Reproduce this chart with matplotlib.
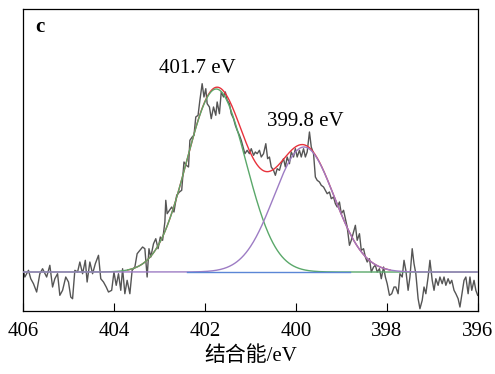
import matplotlib
matplotlib.use('Agg')
import matplotlib.pyplot as plt
import numpy as np

# 实测谱 (binding energy / eV, intensity a.u., baseline = 0)
energy = [406.00, 405.96, 405.88, 405.83, 405.77, 405.70, 405.63, 405.57, 405.48, 405.41,
          405.35, 405.30, 405.24, 405.19, 405.13, 405.06, 405.00, 404.95, 404.91, 404.86,
          404.80, 404.75, 404.69, 404.63, 404.59, 404.53, 404.47, 404.41, 404.34, 404.29,
          404.23, 404.17, 404.12, 404.05, 404.00, 403.95, 403.90, 403.85, 403.81, 403.76,
          403.71, 403.65, 403.60, 403.54, 403.49, 403.43, 403.37, 403.32, 403.27, 403.23,
          403.19, 403.13, 403.08, 403.03, 402.98, 402.93, 402.88, 402.86, 402.83, 402.78,
          402.73, 402.68, 402.62, 402.56, 402.51, 402.46, 402.41, 402.36, 402.33, 402.28,
          402.24, 402.20, 402.15, 402.11, 402.06, 402.02, 401.98, 401.95, 401.90, 401.86,
          401.81, 401.76, 401.73, 401.68, 401.64, 401.59, 401.55, 401.51, 401.46, 401.42,
          401.37, 401.33, 401.29, 401.24, 401.20, 401.15, 401.12, 401.07, 401.02, 400.98,
          400.93, 400.89, 400.85, 400.80, 400.76, 400.71, 400.66, 400.62, 400.58, 400.54,
          400.49, 400.45, 400.41, 400.36, 400.32, 400.27, 400.23, 400.19, 400.14, 400.10,
          400.05, 400.01, 399.97, 399.92, 399.88, 399.83, 399.79, 399.75, 399.70, 399.66,
          399.61, 399.57, 399.53, 399.48, 399.44, 399.39, 399.35, 399.31, 399.26, 399.22,
          399.17, 399.13, 399.09, 399.04, 399.00, 398.95, 398.91, 398.87, 398.82, 398.78,
          398.73, 398.69, 398.65, 398.60, 398.56, 398.51, 398.47, 398.43, 398.38, 398.34,
          398.29, 398.25, 398.21, 398.16, 398.12, 398.07, 398.03, 397.99, 397.94, 397.89,
          397.84, 397.80, 397.75, 397.71, 397.66, 397.62, 397.58, 397.53, 397.49, 397.44,
          397.40, 397.36, 397.31, 397.27, 397.22, 397.18, 397.14, 397.09, 397.05, 397.00,
          396.96, 396.92, 396.87, 396.83, 396.78, 396.74, 396.70, 396.65, 396.61, 396.57,
          396.52, 396.48, 396.43, 396.39, 396.35, 396.30, 396.26, 396.21, 396.17, 396.13,
          396.08, 396.04, 396.00]
intensity = [3.3, -5, 1.7, -6.7, -11.7, -20, -1.7, 3.3, -5, 6.7,
             -15, -6.7, -1.7, -23.3, -18.3, -5, -10, -25, -26.7, 1.7,
             0, 10, -1.7, 11.7, -10, 10, -1.7, 8.3, 16.7, -6.7,
             -10, -15, -20, -18.3, 0, -13.3, -1.7, -18.3, 3.3, -21.7,
             -8.3, -21.7, 1.7, 5, 18.3, 21.7, 25, 23.3, -5, 23.3,
             15, 28.3, 33.3, 23.3, 35, 31.7, 50, 71.7, 58.3, 61.7,
             65, 60, 76.7, 80, 81.7, 110, 106.7, 105, 131.7, 135,
             136.7, 155, 156.7, 171.7, 188.3, 175, 183.3, 168.3, 165, 153.3,
             165, 156.7, 170, 158.3, 180, 175, 180, 171.7, 168.3, 158.3,
             153.3, 146.7, 141.7, 136.7, 131.7, 123.3, 118.3, 121.7, 118.3, 123.3,
             116.7, 120, 118.3, 121.7, 115, 118.3, 128.3, 113.3, 115, 105,
             101.7, 96.7, 103.3, 101.7, 108.3, 113.3, 105, 115, 108.3, 120,
             115, 123.3, 115, 121.7, 115, 123.3, 115, 120, 140, 125,
             118.3, 95, 91.7, 90, 86.7, 85, 81.7, 78.3, 80, 73.3,
             75, 68.3, 65, 70, 58.3, 61.7, 53.3, 45, 26.7, 31.7,
             40, 46.7, 31.7, 38.3, 21.7, 23.3, 15, 10, 13.3, 0,
             5, 6.7, 0, 3.3, -6.7, 5, -5, -11.7, -23.3, -21.7,
             -15, -15, -21.7, -1.7, -5, 11.7, 1.7, -18.3, -5, 23.3,
             8.3, -1.7, -26.7, -36.7, -28.3, -15, -21.7, -5, 11.7, -8.3,
             -18.3, -6.7, -13.3, -5, -11.7, -5, -13.3, -6.7, -11.7, -8.3,
             -18.3, -21.7, -26.7, -35, -23.3, -8.3, -5, -21.7, -5, -18.3,
             -8.3, -18.3, -23.3]

# 拟合峰参数
peak_labels = ['401.7 eV', '399.8 eV']
peak_centers = [401.75, 399.82]
peak_heights = [183, 125]
peak_sigmas = [0.65, 0.66]
peak_colors = ['#5aa86a', '#9d7cc4']
label_pos = [(402.17, 203), (399.8, 150)]
bg_range = [402.4, 398.8]

plt.rcParams['font.family'] = ['Liberation Serif', 'Noto Sans CJK SC']

fig = plt.figure(figsize=(4.95, 3.74), dpi=100)
ax = fig.add_axes([0.0465, 0.1684, 0.9185, 0.8076])

# 原始数据
ax.plot(energy, intensity, color='#555555', linewidth=1.0, zorder=2)

# 分峰曲线
x_fit = np.linspace(406, 396, 800)
comps = []
for c, h, s, col in zip(peak_centers, peak_heights, peak_sigmas, peak_colors):
    y = h * np.exp(-(x_fit - c) ** 2 / (2 * s ** 2))
    comps.append(y)
    ax.plot(x_fit, y, color=col, linewidth=1.0, zorder=3)

# 包络线 (画在分峰下面，重合处显示分峰颜色)
envelope = comps[0] + comps[1]
mask = envelope > 2
ax.plot(x_fit[mask], envelope[mask], color='#e8323c', linewidth=1.0, zorder=2.5)

# 基线
ax.plot(bg_range, [0, 0], color='#5b86d6', linewidth=1.0, zorder=4)

for lab, (xp, yp) in zip(peak_labels, label_pos):
    ax.text(xp, yp, lab, fontsize=15, ha='center', va='center')

ax.text(0.037, 0.94, 'c', transform=ax.transAxes, fontsize=15,
        fontweight='bold', ha='center', va='center')

ax.set_xlim(406, 396)
ax.set_ylim(-39, 263)
ax.set_xticks([406, 404, 402, 400, 398, 396])
ax.set_yticks([])
ax.tick_params(axis='x', direction='in', length=6, width=0.8, labelsize=15, pad=8)
for sp in ax.spines.values():
    sp.set_linewidth(0.9)
ax.set_xlabel('结合能/eV', fontsize=15, labelpad=4)

fig.savefig('out.png', dpi=100)
